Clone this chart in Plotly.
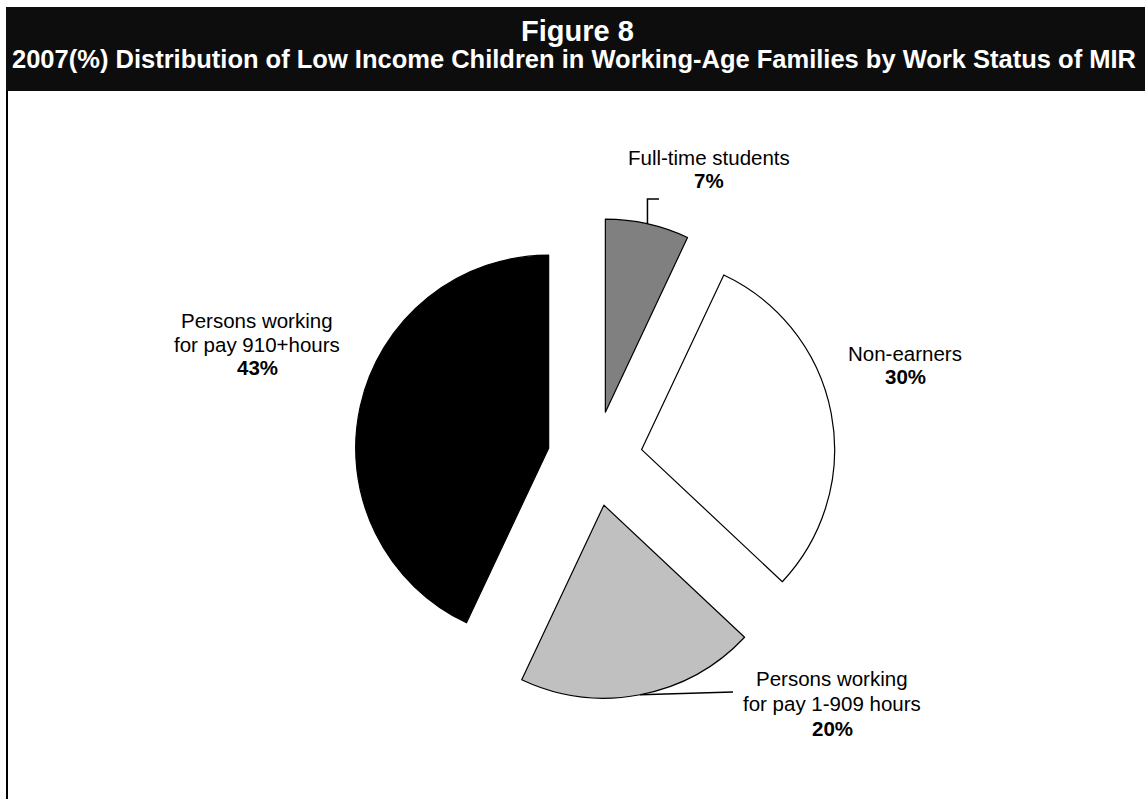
import math
import plotly.graph_objects as go

# Work status of the MIR, clockwise from 12 o'clock
categories = ["Full-time students", "Non-earners",
              "Persons working for pay 1-909 hours",
              "Persons working for pay 910+hours"]
shares = [7, 30, 20, 43]
label_lines = [["Full-time students"], ["Non-earners"],
               ["Persons working", "for pay 1-909 hours"],
               ["Persons working", "for pay 910+hours"]]
slice_colors = ["#808080", "#FFFFFF", "#C0C0C0", "#000000"]

W, H = 1145, 799
FONT = "Liberation Sans, Arial, sans-serif"

# Pie placement (pixels) and explode amount
cx, cy = 595.0, 458.5
radius = 193.0
pull = 0.246
half = radius * (1 + pull)


def px(x):
    return x / W


def py(y):
    return 1 - y / H


fig = go.Figure(go.Pie(
    labels=categories,
    values=shares,
    sort=False,
    direction="clockwise",
    rotation=0,
    pull=[pull] * len(shares),
    marker=dict(colors=slice_colors, line=dict(color="#000000", width=1.2)),
    textinfo="none",
    hoverinfo="label+percent",
    showlegend=False,
    domain=dict(x=[px(cx - half), px(cx + half)],
                y=[py(cy + half), py(cy - half)]),
))


def arc_mid(i):
    """Screen point on the outer arc at the bisector of slice i."""
    total = sum(shares)
    start = sum(shares[:i]) / total * 360
    mid = math.radians(start + shares[i] / total * 360 / 2)
    d = radius * (1 + pull)
    return cx + d * math.sin(mid), cy - d * math.cos(mid)


shapes = [
    # title band
    dict(type="rect", xref="paper", yref="paper",
         x0=px(6), x1=px(W + 2), y0=py(91), y1=py(7),
         fillcolor="#0d0d0d", line=dict(width=0), layer="below"),
    # left frame edge
    dict(type="line", xref="paper", yref="paper",
         x0=px(7), x1=px(7), y0=py(91), y1=py(H + 2),
         line=dict(color="#000000", width=2)),
]

# leader for Full-time students
sx, sy = arc_mid(0)
shapes.append(dict(type="path", xref="paper", yref="paper",
                   path=f"M {px(sx)},{py(sy)} L {px(sx)},{py(199)} L {px(659)},{py(199)}",
                   line=dict(color="#000000", width=1.5)))
# leader for 1-909 hours
sx, sy = arc_mid(2)
shapes.append(dict(type="line", xref="paper", yref="paper",
                   x0=px(sx), y0=py(sy), x1=px(733), y1=py(692),
                   line=dict(color="#000000", width=1.5)))

# label anchors (centre x, first line y, line gap) in pixels
label_pos = [(709, 157, 24), (905, 353, 24), (832, 678, 25), (257, 320, 24)]

annotations = [
    dict(text="<b>Figure 8</b>", x=px(577), y=py(31), xref="paper", yref="paper",
         showarrow=False, xanchor="center", yanchor="middle",
         font=dict(family=FONT, size=29, color="#FFFFFF")),
    dict(text="<b>2007(%) Distribution of Low Income Children in Working-Age Families by Work Status of MIR</b>",
         x=px(574), y=py(59), xref="paper", yref="paper",
         showarrow=False, xanchor="center", yanchor="middle",
         font=dict(family=FONT, size=25.5, color="#FFFFFF")),
]

for i, (lx, ly, gap) in enumerate(label_pos):
    rows = label_lines[i] + [f"<b>{shares[i]}%</b>"]
    for k, row in enumerate(rows):
        annotations.append(dict(
            text=row, x=px(lx), y=py(ly + k * gap),
            xref="paper", yref="paper", showarrow=False,
            xanchor="center", yanchor="middle",
            font=dict(family=FONT, size=20.5, color="#000000")))

fig.update_layout(
    width=W, height=H, autosize=False,
    margin=dict(l=0, r=0, t=0, b=0),
    paper_bgcolor="#FFFFFF", plot_bgcolor="#FFFFFF",
    shapes=shapes, annotations=annotations,
)

fig.write_html("out.html")
